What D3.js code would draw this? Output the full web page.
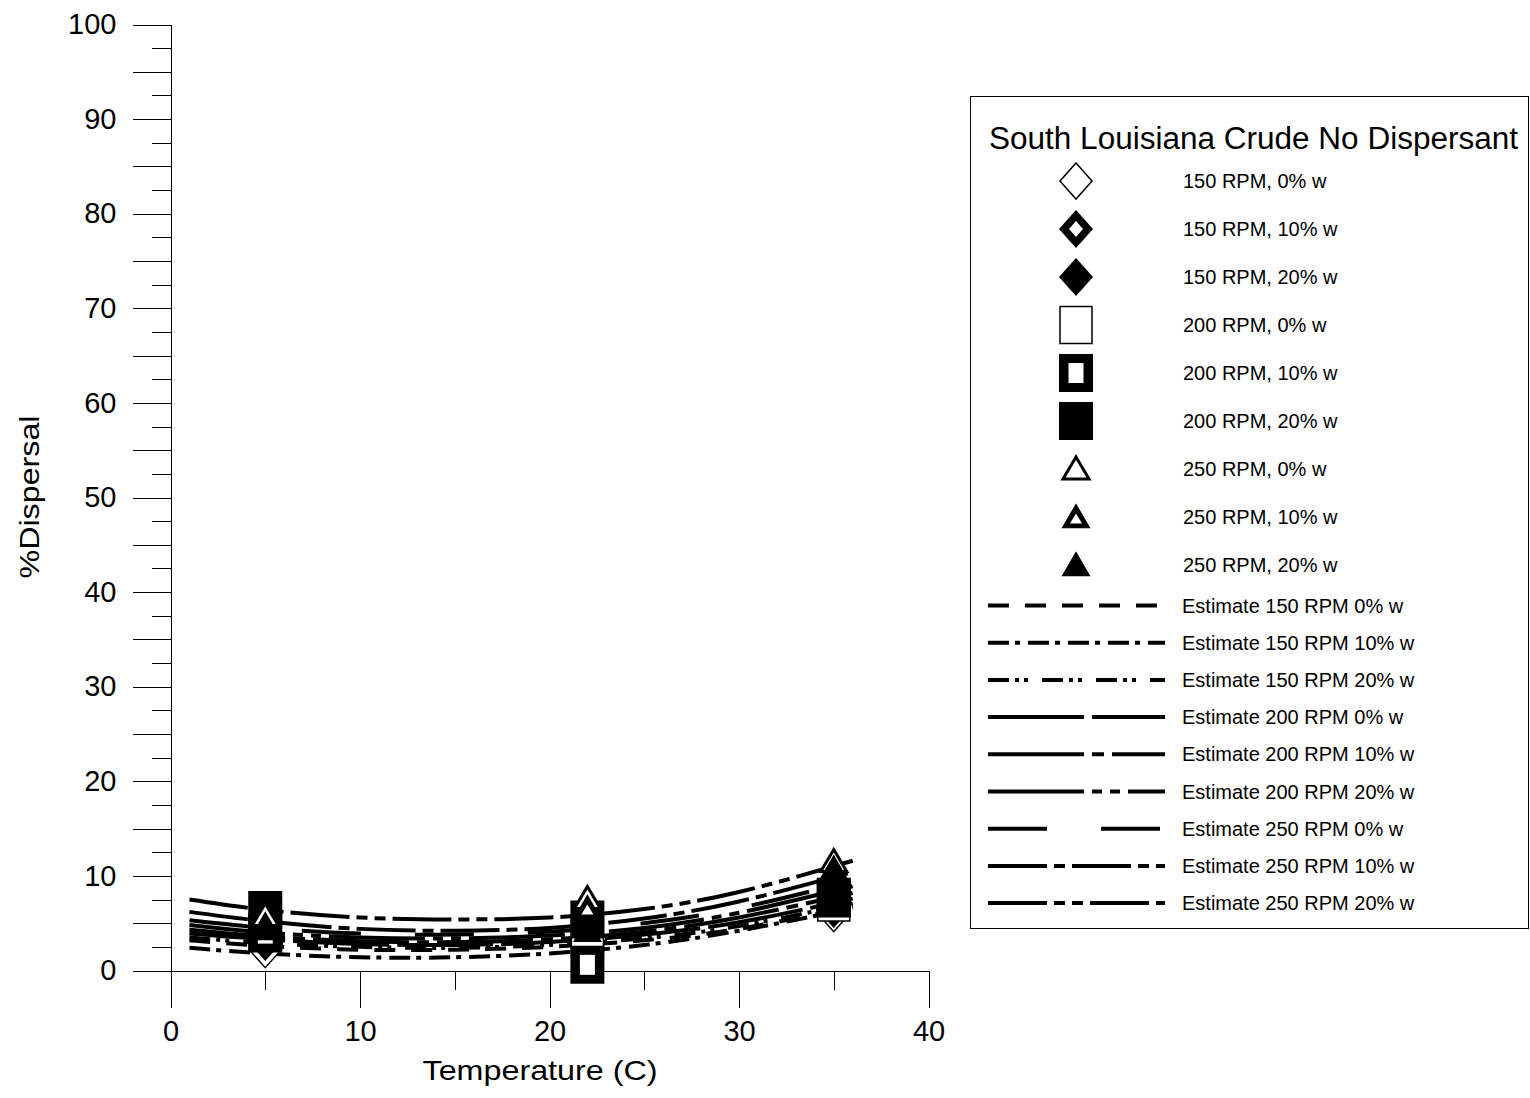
<!DOCTYPE html>
<html>
<head>
<meta charset="utf-8">
<script src="https://cdn.jsdelivr.net/npm/d3@7"></script>
<style>
  body { margin: 0; background: #fff; }
  svg { display: block; font-family: "Liberation Sans", Arial, sans-serif; }
  .axis path, .axis line { stroke: #000; stroke-width: 1; shape-rendering: crispEdges; }
  .axis text { font-size: 29px; fill: #000; }
</style>
</head>
<body>
<div id="chart"></div>
<script>
// measured temperatures
const temps = [5, 22, 35];

// series, in legend order
const seriesNames = [
  '150 RPM, 0% w', '150 RPM, 10% w', '150 RPM, 20% w',
  '200 RPM, 0% w', '200 RPM, 10% w', '200 RPM, 20% w',
  '250 RPM, 0% w', '250 RPM, 10% w', '250 RPM, 20% w',
];
const s150w0 = [2.2, 2.0, 6.0];
const s150w10 = [3.0, 2.8, 6.5];
const s150w20 = [3.4, 2.4, 7.0];
const s200w0 = [4.2, 3.6, 7.2];
const s200w10 = [3.9, 0.6, 7.8];
const s200w20 = [6.4, 5.4, 7.6];
const s250w0 = [5.8, 7.6, 11.5];
const s250w10 = [4.8, 6.6, 10.6];
const s250w20 = [4.4, 4.2, 10.8];
const pointValues = [s150w0, s150w10, s150w20, s200w0, s200w10, s200w20, s250w0, s250w10, s250w20];

// estimate curves
const fitTemps = [1, 5, 10, 15, 20, 25, 30, 36];
const estNames = [
  'Estimate 150 RPM 0% w', 'Estimate 150 RPM 10% w', 'Estimate 150 RPM 20% w',
  'Estimate 200 RPM 0% w', 'Estimate 200 RPM 10% w', 'Estimate 200 RPM 20% w',
  'Estimate 250 RPM 0% w', 'Estimate 250 RPM 10% w', 'Estimate 250 RPM 20% w',
];
const e150w0 = [3.2, 2.6, 2.2, 2.2, 2.5, 3.2, 4.4, 6.8];
const e150w10 = [2.4, 1.8, 1.4, 1.4, 1.8, 2.7, 4.2, 6.6];
const e150w20 = [3.5, 2.9, 2.5, 2.4, 2.7, 3.4, 4.7, 7.1];
const e200w0 = [3.9, 3.3, 2.8, 2.7, 3.0, 3.8, 5.1, 7.6];
const e200w10 = [4.3, 3.6, 3.1, 3.0, 3.3, 4.1, 5.6, 8.2];
const e200w20 = [4.8, 4.0, 3.5, 3.4, 3.7, 4.5, 6.1, 8.9];
const e250w0 = [5.3, 4.5, 3.9, 3.8, 4.1, 5.0, 6.6, 9.5];
const e250w10 = [6.2, 5.2, 4.4, 4.2, 4.5, 5.5, 7.3, 10.4];
const e250w20 = [7.5, 6.4, 5.6, 5.4, 5.6, 6.5, 8.3, 11.6];
const estValues = [e150w0, e150w10, e150w20, e200w0, e200w10, e200w20, e250w0, e250w10, e250w20];

const xTicks = [0, 10, 20, 30, 40];
const yTicks = [0, 10, 20, 30, 40, 50, 60, 70, 80, 90, 100];

// styles
const dashes = [
  '21,16', '21,6,5,8', '21,6,4,5,4,14',
  '96,8', '96,8,12,8', '96,8,10,8,10,8',
  '59,54', '59,7,11,7', '59,7,11,7,11,7',
];
const shapes = ['diamond', 'diamond', 'diamond', 'square', 'square', 'square', 'triangle', 'triangle', 'triangle'];
const fills = ['open', 'thick', 'solid', 'open', 'thick', 'solid', 'open', 'thick', 'solid'];

const W = 1530, H = 1098;
const svg = d3.select('#chart').append('svg').attr('width', W).attr('height', H);

const x = d3.scaleLinear().domain([0, 40]).range([170.5, 928.5]);
const y = d3.scaleLinear().domain([0, 100]).range([970.5, 24.5]);

// x axis
svg.append('g').attr('class', 'axis')
  .attr('transform', 'translate(0,970.5)')
  .call(d3.axisBottom(x).tickValues([5, 15, 25, 35]).tickSize(19).tickFormat('').tickSizeOuter(0));
svg.append('g').attr('class', 'axis')
  .attr('transform', 'translate(0,970.5)')
  .call(d3.axisBottom(x).tickValues(xTicks).tickSize(37).tickPadding(13).tickSizeOuter(0));

// y axis
svg.append('g').attr('class', 'axis')
  .attr('transform', 'translate(170.5,0)')
  .call(d3.axisLeft(y).tickValues(d3.range(2.5, 100, 5)).tickSize(19).tickFormat('').tickSizeOuter(0));
svg.append('g').attr('class', 'axis')
  .attr('transform', 'translate(170.5,0)')
  .call(d3.axisLeft(y).tickValues(d3.range(0, 101, 5)).tickSize(38).tickPadding(16)
    .tickFormat((d) => (yTicks.includes(d) ? d : '')).tickSizeOuter(0));

svg.append('text')
  .attr('x', 540).attr('y', 1080)
  .attr('text-anchor', 'middle')
  .attr('font-size', 28)
  .attr('textLength', 235).attr('lengthAdjust', 'spacingAndGlyphs')
  .text('Temperature (C)');

svg.append('text')
  .attr('transform', 'translate(39,497) rotate(-90)')
  .attr('text-anchor', 'middle')
  .attr('font-size', 27)
  .attr('textLength', 163).attr('lengthAdjust', 'spacingAndGlyphs')
  .text('%Dispersal');

// estimate curves
const line = d3.line()
  .x((d) => x(d[0]))
  .y((d) => y(d[1]))
  .curve(d3.curveNatural);

estValues.forEach((vals, i) => {
  svg.append('path')
    .datum(fitTemps.map((t, j) => [t, vals[j]]))
    .attr('d', line)
    .attr('fill', 'none')
    .attr('stroke', '#000')
    .attr('stroke-width', 4)
    .attr('stroke-dasharray', dashes[i]);
});

// markers
function marker(g, shape, fill, cx, cy) {
  if (shape === 'diamond') {
    const path = (w, h) => `M${cx},${cy - h}L${cx + w},${cy}L${cx},${cy + h}L${cx - w},${cy}Z`;
    if (fill === 'open') {
      g.append('path').attr('d', path(16, 18)).attr('fill', '#fff').attr('stroke', '#000').attr('stroke-width', 1.5);
    } else {
      g.append('path').attr('d', path(17, 19)).attr('fill', '#000');
      if (fill === 'thick') g.append('path').attr('d', path(7, 8)).attr('fill', '#fff');
    }
  } else if (shape === 'square') {
    const rect = (w, h) => `M${cx - w},${cy - h}h${2 * w}v${2 * h}h${-2 * w}Z`;
    if (fill === 'open') {
      g.append('path').attr('d', rect(16, 18.5)).attr('fill', '#fff').attr('stroke', '#000').attr('stroke-width', 1.5);
    } else {
      g.append('path').attr('d', rect(17, 19)).attr('fill', '#000');
      if (fill === 'thick') g.append('path').attr('d', rect(7.5, 10)).attr('fill', '#fff');
    }
  } else {
    const tri = (w, h, dy) => `M${cx},${cy + dy - h * 0.55}L${cx + w},${cy + dy + h * 0.45}L${cx - w},${cy + dy + h * 0.45}Z`;
    if (fill === 'open') {
      g.append('path').attr('d', tri(13, 22, 0)).attr('fill', '#fff').attr('stroke', '#000').attr('stroke-width', 3);
    } else {
      g.append('path').attr('d', tri(14.5, 25, 0)).attr('fill', '#000');
      if (fill === 'thick') g.append('path').attr('d', tri(6, 10, 2)).attr('fill', '#fff');
    }
  }
}

const pts = svg.append('g');
pointValues.forEach((vals, i) => {
  temps.forEach((t, j) => {
    marker(pts, shapes[i], fills[i], x(t), y(vals[j]));
  });
});

// legend
const legend = svg.append('g');
legend.append('rect')
  .attr('x', 970.5).attr('y', 96.5)
  .attr('width', 558).attr('height', 832)
  .attr('fill', '#fff').attr('stroke', '#000').attr('stroke-width', 1);

legend.append('text')
  .attr('x', 989).attr('y', 149)
  .attr('font-size', 31)
  .attr('textLength', 529).attr('lengthAdjust', 'spacingAndGlyphs')
  .text('South Louisiana Crude No Dispersant');

seriesNames.forEach((name, i) => {
  const cy = 181 + i * 48;
  marker(legend, shapes[i], fills[i], 1076, cy);
  legend.append('text')
    .attr('x', 1183).attr('y', cy + 7)
    .attr('font-size', 20)
    .text(name);
});

estNames.forEach((name, i) => {
  const cy = 605.5 + i * 37.2;
  legend.append('line')
    .attr('x1', 988).attr('x2', 1165)
    .attr('y1', cy).attr('y2', cy)
    .attr('stroke', '#000').attr('stroke-width', 4)
    .attr('stroke-dasharray', dashes[i]);
  legend.append('text')
    .attr('x', 1182).attr('y', cy + 7)
    .attr('font-size', 20)
    .text(name);
});
</script>
</body>
</html>
